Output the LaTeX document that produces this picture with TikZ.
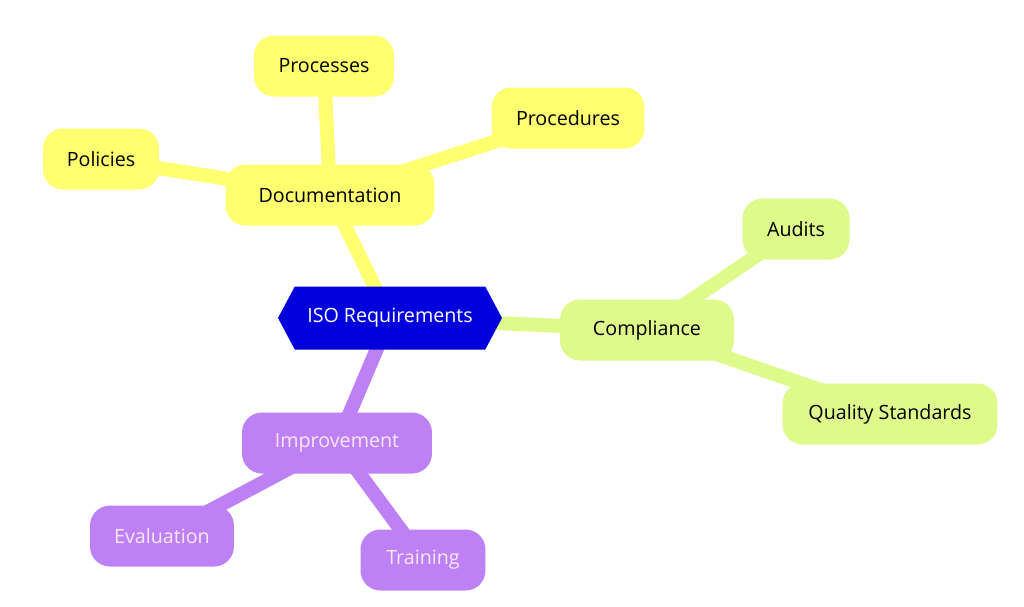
\documentclass[tikz,border=0pt]{standalone}
\usepackage{fontspec}
\setmainfont{Open Sans}
\usetikzlibrary{shapes.symbols}
\usetikzlibrary{backgrounds}
\definecolor{docyellow}{RGB}{255,255,112}
\definecolor{compgreen}{RGB}{222,250,138}
\definecolor{imppurple}{RGB}{190,128,245}
\definecolor{isoblue}{RGB}{0,0,220}
\definecolor{imptext}{RGB}{248,232,252}

\begin{document}
\begin{tikzpicture}[x=0.02cm,y=-0.02cm,
  every node/.style={font=\fontsize{11.2}{13}\selectfont},
  leaf/.style={rounded corners=0.4cm, minimum height=1.22cm, inner sep=0pt},
  doc/.style={leaf, fill=docyellow, text=black},
  comp/.style={leaf, fill=compgreen, text=black},
  imp/.style={leaf, fill=imppurple, text=imptext},
  hub/.style={signal, signal to=west and east, signal pointer angle=124,
    fill=isoblue, text=white, minimum height=1.26cm, minimum width=4.48cm, inner sep=0pt},
  link/.style={line width=0.28cm}]
\useasboundingbox (0,0) rectangle (1024,606);

\node[hub] (iso) at (390,318) {ISO Requirements};

\node[doc, minimum width=4.18cm] (docu) at (330,195) {Documentation};
\node[doc, minimum width=2.8cm] (proc) at (324,66) {Processes};
\node[doc, minimum width=3.06cm] (procd) at (568,118) {Procedures};
\node[doc, minimum width=2.32cm] (pol) at (101,159) {Policies};

\node[comp, minimum width=3.48cm] (compl) at (647,330) {Compliance};
\node[comp, minimum width=2.14cm] (aud) at (796,229) {Audits};
\node[comp, minimum width=4.3cm] (qual) at (890,414) {Quality Standards};

\node[imp, minimum width=3.8cm] (impr) at (337,443) {Improvement};
\node[imp, minimum width=2.88cm] (eval) at (162,536) {Evaluation};
\node[imp, minimum width=2.5cm] (train) at (423,560) {Training};

% branches
\begin{scope}[on background layer]
\draw[link, docyellow] (iso.center) -- (docu.center);
\draw[link, docyellow] (docu.center) -- (proc.center);
\draw[link, docyellow] (docu.center) -- (procd.center);
\draw[link, docyellow] (docu.center) -- (pol.center);
\draw[link, compgreen] (iso.center) -- (compl.center);
\draw[link, compgreen] (compl.center) -- (aud.center);
\draw[link, compgreen] (compl.center) -- (qual.center);
\draw[link, imppurple] (iso.center) -- (impr.center);
\draw[link, imppurple] (impr.center) -- (eval.center);
\draw[link, imppurple] (impr.center) -- (train.center);
\end{scope}

\end{tikzpicture}
\end{document}
